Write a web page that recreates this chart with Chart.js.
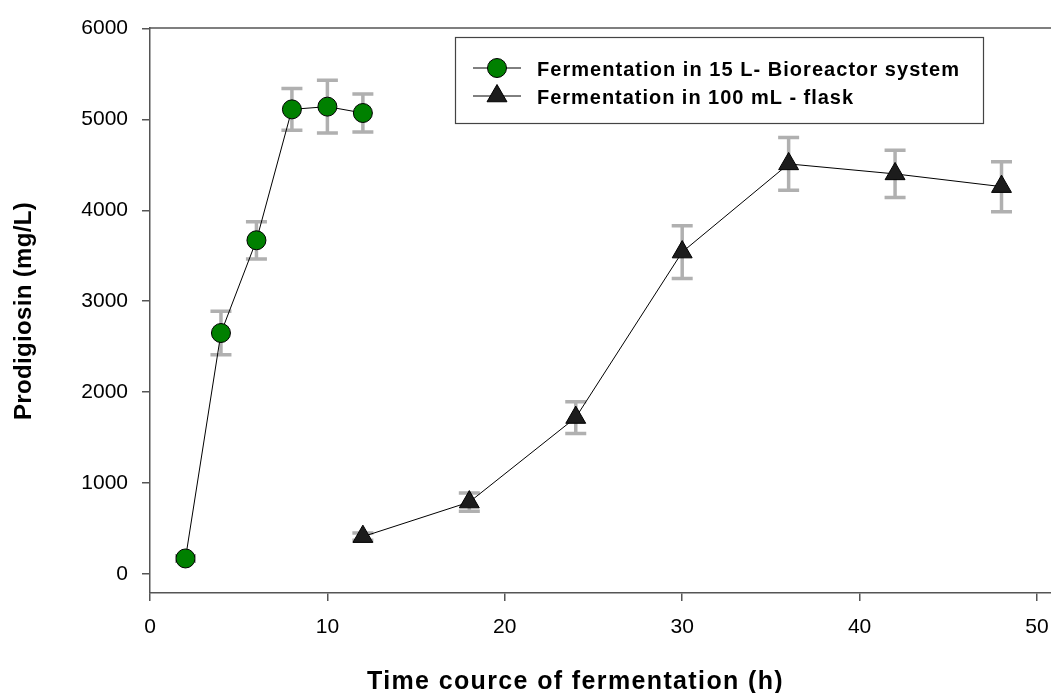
<!DOCTYPE html>
<html><head><meta charset="utf-8">
<script src="https://cdn.jsdelivr.net/npm/chart.js@4"></script>
<style>html,body{margin:0;padding:0;background:#fff}#wrap{width:1051px;height:693px}</style>
</head><body><div id="wrap"><canvas id="c" width="1051" height="693"></canvas></div>
<script>
const bioTime=[2,4,6,8,10,12];
const bioValue=[170,2650,3670,5110,5140,5070];
const bioErr=[30,240,205,230,290,210];
const flaskTime=[12,18,24,30,36,42,48];
const flaskValue=[410,790,1720,3540,4510,4400,4260];
const flaskErr=[40,100,175,290,290,260,275];
const xTicks=[0,10,20,30,40,50];
const yTicks=[0,1000,2000,3000,4000,5000,6000];
const seriesLabels=['Fermentation in 15 L- Bioreactor system','Fermentation in 100 mL - flask'];
const xTitle='Time cource of fermentation (h)';
const yTitle='Prodigiosin (mg/L)';

const FONT='"Liberation Sans", Arial, sans-serif';
const AXIS='#555';

function fitText(ctx,text,x,y,w,font){
  ctx.font=font; ctx.letterSpacing='0px';
  const m=ctx.measureText(text).width;
  const ls=(w-m)/(text.length);
  ctx.letterSpacing=ls+'px';
  ctx.textAlign='left'; ctx.textBaseline='alphabetic';
  ctx.fillText(text,x,y);
  ctx.letterSpacing='0px';
}

const errorBars={
  id:'errorBars',
  beforeDatasetsDraw(chart){
    const ctx=chart.ctx, xs=chart.scales.x, ys=chart.scales.y;
    ctx.save();
    ctx.strokeStyle='#b0b0b0'; ctx.lineWidth=3.5; ctx.lineCap='butt';
    chart.data.datasets.forEach(ds=>{
      ds.data.forEach((p,j)=>{
        const e=ds.errors[j];
        const x=xs.getPixelForValue(p.x);
        const y1=ys.getPixelForValue(p.y+e), y2=ys.getPixelForValue(p.y-e);
        ctx.beginPath();
        ctx.moveTo(x,y1); ctx.lineTo(x,y2);
        ctx.moveTo(x-10.5,y1); ctx.lineTo(x+10.5,y1);
        ctx.moveTo(x-10.5,y2); ctx.lineTo(x+10.5,y2);
        ctx.stroke();
      });
    });
    ctx.restore();
  }
};

const frame={
  id:'frame',
  afterDraw(chart){
    const ctx=chart.ctx, a=chart.chartArea;
    ctx.save();
    ctx.strokeStyle=AXIS; ctx.lineWidth=1.5;
    ctx.beginPath(); ctx.moveTo(a.left,a.top); ctx.lineTo(a.right,a.top); ctx.stroke();
    ctx.fillStyle='#000';
    fitText(ctx,xTitle,367,689,417,'bold 25px '+FONT);
    ctx.save();
    ctx.translate(31,420); ctx.rotate(-Math.PI/2);
    fitText(ctx,yTitle,0,0,218,'bold 24px '+FONT);
    ctx.restore();
    ctx.strokeStyle='#444'; ctx.lineWidth=1.2;
    ctx.strokeRect(455.5,37.5,528,86);
    const rows=[{y:68,base:76,w:423},{y:96,base:104,w:317}];
    chart.data.datasets.forEach((ds,i)=>{
      const r=rows[i];
      ctx.strokeStyle='#000'; ctx.lineWidth=1;
      ctx.beginPath(); ctx.moveTo(473,r.y); ctx.lineTo(521,r.y); ctx.stroke();
      ctx.fillStyle=ds.pointBackgroundColor; ctx.strokeStyle=ds.pointBorderColor; ctx.lineWidth=ds.pointBorderWidth;
      Chart.helpers.drawPoint(ctx,{pointStyle:ds.pointStyle,radius:ds.pointRadius,rotation:0,borderWidth:ds.pointBorderWidth},497,r.y);
      ctx.fillStyle='#000';
      fitText(ctx,ds.label,537,r.base,r.w,'bold 20px '+FONT);
    });
    ctx.restore();
  }
};

new Chart(document.getElementById('c'),{
  type:'line',
  data:{datasets:[
    {label:seriesLabels[0],data:bioTime.map((x,i)=>({x:x,y:bioValue[i]})),errors:bioErr,
     borderColor:'#000',borderWidth:1,pointStyle:'circle',pointRadius:9.5,pointHoverRadius:9.5,
     pointBackgroundColor:'#008000',pointBorderColor:'#000',pointBorderWidth:1,tension:0,fill:false},
    {label:seriesLabels[1],data:flaskTime.map((x,i)=>({x:x,y:flaskValue[i]})),errors:flaskErr,
     borderColor:'#000',borderWidth:1,pointStyle:'triangle',pointRadius:11.5,pointHoverRadius:11.5,
     pointBackgroundColor:'#1c1c1c',pointBorderColor:'#000',pointBorderWidth:1,tension:0,fill:false}
  ]},
  options:{
    responsive:false,animation:false,devicePixelRatio:1,
    layout:{autoPadding:false,padding:{top:28,left:0,right:0,bottom:0}},
    plugins:{legend:{display:false},tooltip:{enabled:false}},
    scales:{
      x:{type:'linear',min:0,max:50.79,
        afterBuildTicks:s=>{s.ticks=xTicks.map(v=>({value:v}));},
        afterFit:s=>{s.height=100;s.paddingLeft=0;s.paddingRight=0;},
        ticks:{font:{family:FONT,size:21},color:'#000',padding:14,maxRotation:0,autoSkip:false,callback:v=>String(v)},
        grid:{drawOnChartArea:false,drawTicks:true,tickLength:8,color:AXIS,lineWidth:1.5},
        border:{color:AXIS,width:1.5},title:{display:false}},
      y:{type:'linear',min:-210,max:6005,
        afterBuildTicks:s=>{s.ticks=yTicks.map(v=>({value:v}));},
        afterFit:s=>{s.width=150;s.paddingTop=0;s.paddingBottom=0;},
        ticks:{font:{family:FONT,size:21},color:'#000',padding:14,autoSkip:false,callback:v=>String(v)},
        grid:{drawOnChartArea:false,drawTicks:true,tickLength:8,color:AXIS,lineWidth:1.5},
        border:{color:AXIS,width:1.5},title:{display:false}}
    }
  },
  plugins:[errorBars,frame]
});
</script></body></html>
